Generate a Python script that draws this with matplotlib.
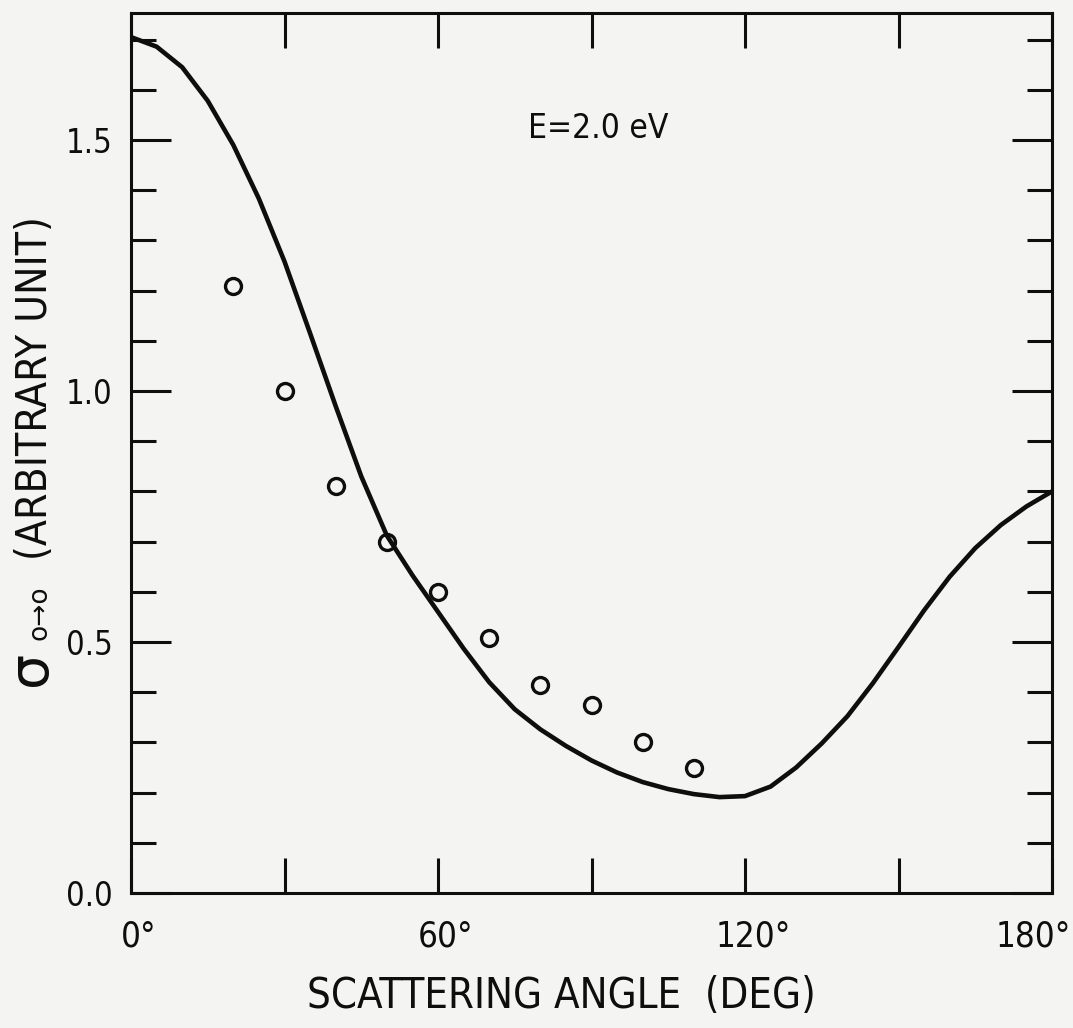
import matplotlib
matplotlib.use("Agg")
import matplotlib.pyplot as plt
from matplotlib import font_manager
from matplotlib.font_manager import FontProperties
from matplotlib.ticker import MultipleLocator, FixedLocator
from matplotlib.transforms import ScaledTranslation

# calculated cross section (solid line), every 5 degrees
angle_calc = [0, 5, 10, 15, 20, 25, 30, 35, 40, 45, 50, 55, 60, 65, 70, 75, 80, 85, 90,
              95, 100, 105, 110, 115, 120, 125, 130, 135, 140, 145, 150, 155, 160,
              165, 170, 175, 180]
sigma_calc = [1.705, 1.686, 1.645, 1.578, 1.490, 1.383, 1.258, 1.115, 0.970, 0.830,
              0.712, 0.633, 0.560, 0.487, 0.420, 0.366, 0.326, 0.293, 0.264, 0.240,
              0.221, 0.207, 0.197, 0.191, 0.193, 0.212, 0.250, 0.298, 0.352, 0.418,
              0.490, 0.563, 0.630, 0.687, 0.733, 0.770, 0.800]

# measured points (open circles)
angle_meas = [20, 30, 40, 50, 60, 70, 80, 90, 100, 110]
sigma_meas = [1.21, 1.00, 0.81, 0.70, 0.60, 0.508, 0.414, 0.374, 0.300, 0.249]

x_major = [0, 60, 120, 180]
x_labels = ["0°", "60°", "120°", "180°"]
x_label_shift = [8, 8, 8, -19]   # px, last label kept inside the page
y_major = [0.0, 0.5, 1.0, 1.5]
y_labels = ["0.0", "0.5", "1.0", "1.5"]

ink = "#0e0e0e"
paper = "#f4f4f2"


def narrow_font():
    # look for any condensed / narrow sans face that is installed
    best = None
    for f in font_manager.fontManager.ttflist:
        if f.style != "normal":
            continue
        if f.weight not in (400, "normal", "regular", 500, "medium"):
            continue
        tag = (f.name + " " + str(f.stretch)).lower()
        if "condensed" in tag or "narrow" in tag:
            if "mono" in tag or "serif" in tag and "sans" not in tag:
                continue
            best = f.fname
            if "condensed" == str(f.stretch).lower():
                break
    return best


fpath = narrow_font()
if fpath:
    cond = lambda size: FontProperties(fname=fpath, size=size)
else:
    cond = lambda size: FontProperties(family="DejaVu Sans", size=size * 0.8)

fig = plt.figure(figsize=(10.73, 10.28), dpi=100, facecolor=paper)
ax = fig.add_axes([131 / 1073, 135 / 1028, 921 / 1073, 880 / 1028])
ax.set_facecolor(paper)

ax.plot(angle_calc, sigma_calc, color=ink, lw=3.3, solid_capstyle="round",
        solid_joinstyle="round")
ax.plot(angle_meas, sigma_meas, "o", ms=11.5, mfc="none", mec=ink, mew=2.4)

ax.set_xlim(0, 180)
ax.set_ylim(0, 1.753)

ax.xaxis.set_major_locator(FixedLocator(x_major))
ax.xaxis.set_minor_locator(FixedLocator([30, 90, 150]))
ax.set_xticklabels(x_labels)
ax.yaxis.set_major_locator(FixedLocator(y_major))
ax.yaxis.set_minor_locator(MultipleLocator(0.1))
ax.set_yticklabels(y_labels)

for s in ax.spines.values():
    s.set_linewidth(2.2)
    s.set_color(ink)

ax.tick_params(axis="x", which="both", direction="in", top=True, bottom=True,
               length=25, width=2.2, color=ink, pad=19)
ax.tick_params(axis="y", which="major", direction="in", left=True, right=True,
               length=29, width=2.2, color=ink, pad=13)
ax.tick_params(axis="y", which="minor", direction="in", left=True, right=True,
               length=18, width=2.2, color=ink)

for lab, dx in zip(ax.get_xticklabels(), x_label_shift):
    lab.set_fontproperties(cond(25))
    lab.set_color(ink)
    lab.set_transform(lab.get_transform() + ScaledTranslation(dx / 100, 0, fig.dpi_scale_trans))
for lab in ax.get_yticklabels():
    lab.set_fontproperties(cond(23.5))
    lab.set_color(ink)

ax.text((598 - 131) / 921, (893 - 128) / 880, "E=2.0 eV", fontproperties=cond(24),
        color=ink, transform=ax.transAxes, ha="center", va="center")

fig.text(561 / 1073, 1 - 996 / 1028, "SCATTERING ANGLE  (DEG)",
         fontproperties=cond(30), color=ink, ha="center", va="center")

# y label: sigma with o->o subscript, then the unit
fig.text(31 / 1073, 1 - 668 / 1028, "σ", fontsize=40, family="DejaVu Sans",
         color=ink, rotation=90, ha="center", va="center")
fig.text(39 / 1073, 1 - 613 / 1028, "o→o", fontsize=19, family="DejaVu Sans",
         color=ink, rotation=90, ha="center", va="center")
fig.text(35 / 1073, 1 - 388 / 1028, "(ARBITRARY UNIT)", fontproperties=cond(30.5),
         color=ink, rotation=90, ha="center", va="center")

fig.savefig("out.png", dpi=100, facecolor=paper)
